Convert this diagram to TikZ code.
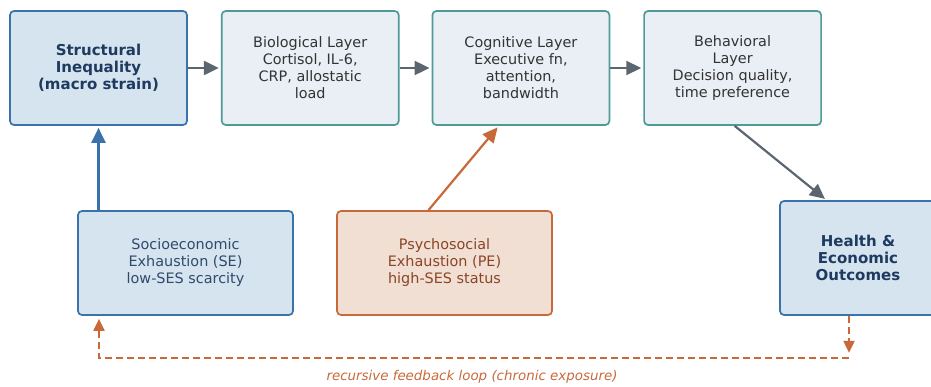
\documentclass[tikz,border=0pt]{standalone}
\usepackage{xcolor}
\usepackage{tikz}
\usepackage{fontspec}
\setmainfont{DejaVu Sans}
\usetikzlibrary{positioning,calc,arrows.meta}
\definecolor{macroblue}{HTML}{3A72AB}
\definecolor{macrofill}{HTML}{D6E4F0}
\definecolor{layerteal}{HTML}{4E9A98}
\definecolor{layerfill}{HTML}{EAEFF5}
\definecolor{psyorange}{HTML}{C8693A}
\definecolor{psyfill}{HTML}{F2DFD4}
\definecolor{navytext}{HTML}{1E3A5F}
\definecolor{browntext}{HTML}{8A4526}
\definecolor{flowgray}{HTML}{5C6670}
\newcommand{\boxfont}{\fontsize{14.4}{17}\selectfont}
\newcommand{\headfont}{\fontsize{15}{17}\selectfont\bfseries}
\newcommand{\notefont}{\fontsize{13.4}{15}\selectfont}

\begin{document}
\begin{tikzpicture}[x=1pt,y=1pt,
  layerbox/.style={draw=layerteal, fill=layerfill, line width=1.7pt, rounded corners=4pt,
    minimum width=177pt, minimum height=114pt, align=center, text=black!80, font=\boxfont},
  macrobox/.style={draw=macroblue, fill=macrofill, line width=1.7pt, rounded corners=4pt,
    align=center, text=navytext, font=\boxfont},
  psybox/.style={draw=psyorange, fill=psyfill, line width=1.7pt, rounded corners=4pt,
    minimum width=215pt, minimum height=104pt, align=center, text=browntext, font=\boxfont},
  flow/.style={draw=flowgray, line width=2.2pt, -{Triangle[length=15pt,width=14pt]}, shorten >=2pt},
  feedback/.style={draw=psyorange, line width=2pt, dash pattern=on 7pt off 4pt,
    -{Triangle[length=12pt,width=11pt]}}]
\useasboundingbox (0,0) rectangle (931,386);

% top row: macro strain and the three layers
\node[macrobox, minimum width=177pt, minimum height=114pt, font=\headfont] (struct) at (98.5,318)
  {Structural\\Inequality\\(macro strain)};
\node[layerbox, right=33pt of struct] (bio)
  {Biological Layer\\Cortisol, IL-6,\\CRP, allostatic\\load};
\node[layerbox, right=32pt of bio] (cog)
  {Cognitive Layer\\Executive fn,\\attention,\\bandwidth};
\node[layerbox, right=33pt of cog] (beh)
  {Behavioral\\Layer\\Decision quality,\\time preference};

% lower row
\node[macrobox, minimum width=215pt, minimum height=104pt, text=navytext!92] (se) at (185.5,123)
  {Socioeconomic\\Exhaustion (SE)\\low-SES scarcity};
\node[psybox] (pe) at (444.5,123)
  {Psychosocial\\Exhaustion (PE)\\high-SES status};
\node[macrobox, minimum width=156pt, minimum height=114pt, font=\headfont] (health) at (858,128)
  {Health \&\\Economic\\Outcomes};

% pathway
\draw[flow] (struct) -- (bio);
\draw[flow] (bio) -- (cog);
\draw[flow] (cog) -- (beh);
\draw[flow] ($(beh.south)+(2,0)$) -- ($(health.north west)!0.3!(health.north east)$);
\draw[flow, draw=macroblue] (struct.south |- se.north) -- (struct.south);
\draw[flow, draw=psyorange] ($(pe.north)+(-16,0)$) -- ($(cog.south)+(-22,0)$);

% feedback loop
\coordinate (fbR) at (849,28);
\coordinate (fbL) at (99,28);
\draw[feedback] ($(health.south)+(-9,0)$) -- ++(0,-37);
\draw[feedback, shorten >=3pt] (fbR) -- (fbL) -- (fbL |- se.south);
\node[font=\notefont\itshape, text=psyorange] (fblabel) at (472,9)
  {recursive feedback loop (chronic exposure)};
\end{tikzpicture}
\end{document}
